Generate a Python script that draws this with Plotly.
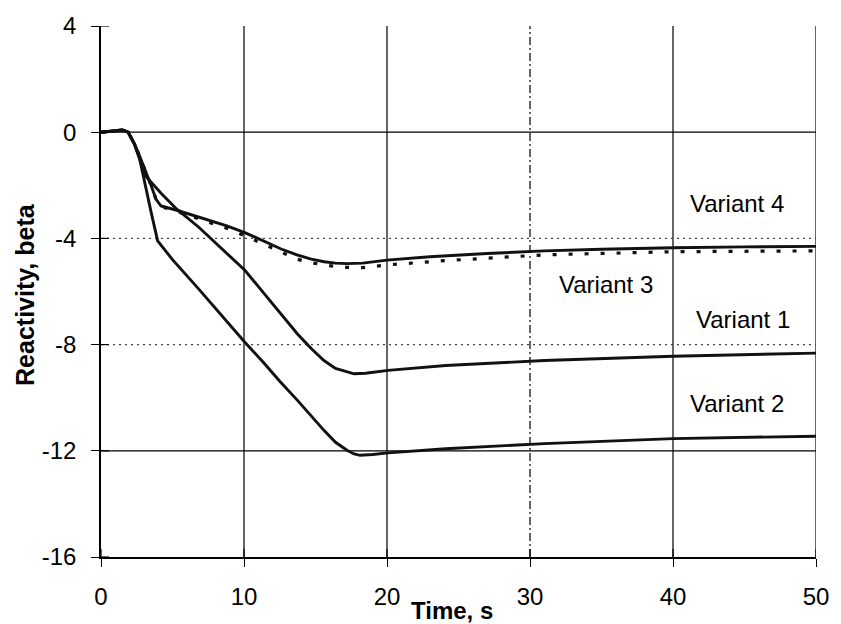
import plotly.graph_objects as go

# ---- data ----
time_v4 = [0, 1.0, 1.5, 1.9, 2.35, 2.7, 3.04, 3.5, 3.85, 4.2, 5.3, 6.5, 8.8, 10.06, 11.5, 12.6, 13.7, 14.7, 15.6, 16.4, 17.2, 18.3, 20.0, 23.0, 27.0, 31.0, 35.0, 40.0, 45.0, 50.0]
react_v4 = [0, 0.05, 0.08, 0.0, -0.46, -0.9, -1.34, -2.0, -2.53, -2.78, -2.94, -3.15, -3.53, -3.78, -4.12, -4.4, -4.62, -4.78, -4.88, -4.93, -4.95, -4.93, -4.82, -4.69, -4.57, -4.47, -4.41, -4.35, -4.32, -4.30]

time_v3 = [0, 1.0, 1.5, 1.9, 2.35, 2.7, 3.04, 3.5, 3.85, 4.2, 5.3, 6.5, 8.8, 10.06, 11.5, 12.6, 13.7, 14.7, 15.6, 16.4, 17.2, 18.3, 20.0, 24.0, 31.0, 40.0, 50.0]
react_v3 = [0, 0.05, 0.08, 0.0, -0.46, -0.9, -1.34, -2.0, -2.53, -2.8, -2.98, -3.2, -3.62, -3.9, -4.25, -4.53, -4.78, -4.92, -5.0, -5.06, -5.09, -5.1, -5.0, -4.84, -4.62, -4.5, -4.47]

time_v1 = [0, 1.0, 1.5, 1.9, 2.35, 2.7, 3.04, 4.2, 5.3, 6.84, 8.5, 10.06, 11.44, 12.5, 13.74, 14.7, 15.59, 16.4, 17.2, 17.7, 18.5, 20.08, 24.1, 31.0, 40.0, 50.0]
react_v1 = [0, 0.05, 0.08, 0.0, -0.46, -1.0, -1.6, -2.3, -2.9, -3.58, -4.4, -5.2, -6.1, -6.79, -7.6, -8.15, -8.6, -8.9, -9.04, -9.1, -9.08, -8.97, -8.79, -8.6, -8.44, -8.32]

time_v2 = [0, 1.0, 1.5, 1.9, 2.35, 2.7, 3.04, 3.5, 3.96, 5.0, 6.84, 8.5, 10.06, 11.44, 12.5, 13.74, 14.7, 15.59, 16.4, 17.2, 17.7, 18.12, 19.0, 20.08, 24.1, 31.0, 40.0, 50.0]
react_v2 = [0, 0.05, 0.08, 0.0, -0.46, -1.0, -1.9, -3.0, -4.09, -4.8, -5.91, -6.95, -7.91, -8.72, -9.38, -10.1, -10.7, -11.23, -11.68, -11.98, -12.12, -12.17, -12.14, -12.08, -11.92, -11.73, -11.54, -11.45]

x_ticks = [0, 10, 20, 30, 40, 50]
x_tick_text = ["0", "10", "20", "30", "40", "50"]
y_ticks = [-16, -12, -8, -4, 0, 4]
y_tick_text = ["-16", "-12", "-8", "-4", "0", "4"]
vgrid_x = [10, 20, 30, 40, 50]
vgrid_dash = ["solid", "solid", "8px,3px,2px,3px", "solid", "solid"]
hgrid_y = [0, -4, -8, -12]
hgrid_dash = ["solid", "2px,4px", "2px,4px", "solid"]
hgrid_color = ["#000000", "#444444", "#444444", "#000000"]

label_text = ["Variant 4", "Variant 3", "Variant 1", "Variant 2"]
label_x = [44.5, 35.3, 44.9, 44.5]
label_y = [-2.70, -5.75, -7.06, -10.21]

FONT = "Liberation Sans, Arial, sans-serif"

L, R, T, B = 101, 16, 24, 67
W, H = 841, 624
pw, ph = W - L - R, H - T - B

fig = go.Figure()
fig.add_trace(go.Scatter(x=time_v3, y=react_v3, mode="lines",
                         line=dict(color="#111111", width=3.2, dash="4px,12px"),
                         name="Variant 3", showlegend=False))
fig.add_trace(go.Scatter(x=time_v4, y=react_v4, mode="lines",
                         line=dict(color="#111111", width=2.9),
                         name="Variant 4", showlegend=False))
fig.add_trace(go.Scatter(x=time_v1, y=react_v1, mode="lines",
                         line=dict(color="#111111", width=2.9),
                         name="Variant 1", showlegend=False))
fig.add_trace(go.Scatter(x=time_v2, y=react_v2, mode="lines",
                         line=dict(color="#111111", width=2.9),
                         name="Variant 2", showlegend=False))

shapes = []
for xv, d in zip(vgrid_x, vgrid_dash):
    shapes.append(dict(type="line", xref="x", yref="y", x0=xv, x1=xv,
                       y0=y_ticks[0], y1=y_ticks[-1], layer="below",
                       line=dict(color="#000000", width=1.2, dash=d)))
for yv, d, c in zip(hgrid_y, hgrid_dash, hgrid_color):
    shapes.append(dict(type="line", xref="x", yref="y", x0=x_ticks[0], x1=x_ticks[-1],
                       y0=yv, y1=yv, layer="below",
                       line=dict(color=c, width=1.2, dash=d)))
# inner halves of the crossing tick marks
for yv in y_ticks:
    shapes.append(dict(type="line", xref="x", yref="y", xsizemode="pixel", xanchor=0,
                       x0=0, x1=8, y0=yv, y1=yv, line=dict(color="#000000", width=1.2)))
for xv in x_ticks:
    shapes.append(dict(type="line", xref="x", yref="y", ysizemode="pixel", yanchor=y_ticks[0],
                       x0=xv, x1=xv, y0=0, y1=8, line=dict(color="#000000", width=1.2)))

annotations = []
for t, xv, yv in zip(label_text, label_x, label_y):
    annotations.append(dict(text=t, x=xv, y=yv, xref="x", yref="y", showarrow=False,
                            xanchor="center", yanchor="middle",
                            font=dict(family=FONT, size=24, color="#000000")))
annotations.append(dict(text="<b>Time, s</b>", x=(456 - L) / pw, y=1 - (611 - T) / ph,
                        xref="paper", yref="paper", xanchor="center", yanchor="middle",
                        showarrow=False, font=dict(family=FONT, size=24, color="#000000")))
annotations.append(dict(text="<b>Reactivity, beta</b>", x=(24 - L) / pw, y=1 - (293 - T) / ph,
                        xref="paper", yref="paper", xanchor="center", yanchor="middle",
                        textangle=-90, showarrow=False,
                        font=dict(family=FONT, size=25, color="#000000")))

fig.update_layout(
    width=W, height=H,
    margin=dict(l=L, r=R, t=T, b=B, pad=0),
    paper_bgcolor="white", plot_bgcolor="white",
    font=dict(family=FONT, size=24, color="#000000"),
    shapes=shapes, annotations=annotations,
    xaxis=dict(range=[0, 50], tickvals=x_ticks, ticktext=x_tick_text,
               showgrid=False, zeroline=False,
               showline=True, linecolor="#000000", linewidth=1.5,
               ticks="outside", ticklen=8, tickwidth=1.2, tickcolor="#000000",
               ticklabelstandoff=9, tickfont=dict(size=24)),
    yaxis=dict(range=[-16, 4], tickvals=y_ticks, ticktext=y_tick_text,
               showgrid=False, zeroline=False,
               showline=True, linecolor="#000000", linewidth=1.5,
               ticks="outside", ticklen=8, tickwidth=1.2, tickcolor="#000000",
               ticklabelstandoff=10, tickfont=dict(size=24)),
)

fig.write_html("out.html")
